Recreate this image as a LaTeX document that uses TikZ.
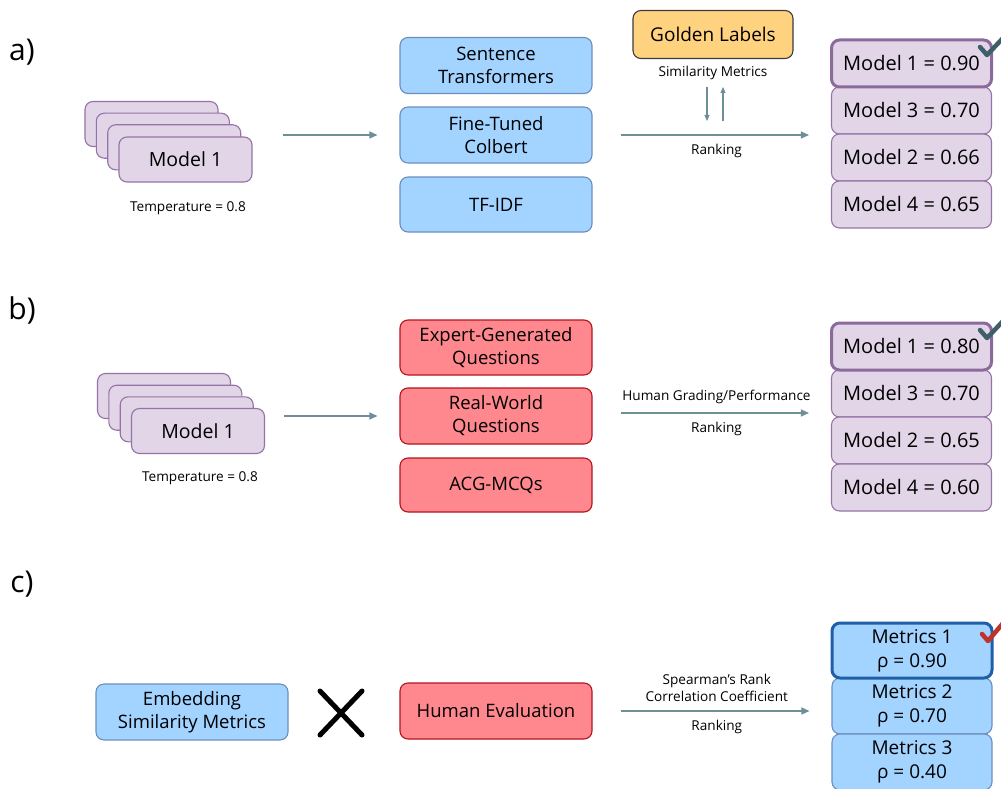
\documentclass[tikz,border=0pt]{standalone}
\usepackage{fontspec}
\setmainfont{Open Sans}
\usetikzlibrary{arrows.meta}
\definecolor{pfill}{HTML}{E1D5E7}
\definecolor{pdraw}{HTML}{9673A6}
\definecolor{phl}{HTML}{8B6A9C}
\definecolor{bfill}{HTML}{A3D3FF}
\definecolor{bdraw}{HTML}{6C8EBF}
\definecolor{bhl}{HTML}{1F5FA8}
\definecolor{rfill}{HTML}{FF888E}
\definecolor{rdraw}{HTML}{B5151E}
\definecolor{gfill}{HTML}{FFD27F}
\definecolor{gdraw}{HTML}{3C3C3C}
\definecolor{arrc}{HTML}{6E8E98}
\definecolor{chk}{HTML}{3F5E69}
\definecolor{chkred}{HTML}{C0332B}
\tikzset{
  box/.style={rounded corners=8pt, line width=1.1pt, inner sep=0pt, align=center,
    font=\fontsize{19}{23}\selectfont},
  pbox/.style={box, fill=pfill, draw=pdraw},
  bbox/.style={box, fill=bfill, draw=bdraw, font=\fontsize{18.5}{23}\selectfont},
  rbox/.style={box, fill=rfill, draw=rdraw, font=\fontsize{18.5}{23}\selectfont},
  gbox/.style={box, fill=gfill, draw=gdraw, font=\fontsize{19}{23}\selectfont},
  midbox/.style={minimum width=192pt},
  stackbox/.style={pbox, minimum width=133pt, minimum height=45pt, font=\fontsize{19.5}{23}\selectfont},
  rankbox/.style={pbox, minimum width=160pt, minimum height=47pt, font=\fontsize{20}{23}\selectfont},
  metbox/.style={box, fill=bfill, draw=bdraw, minimum width=160pt, font=\fontsize{19}{24}\selectfont},
  sm/.style={font=\fontsize{13.6}{16.5}\selectfont, inner sep=0pt, align=center},
  lbl/.style={font=\fontsize{30}{34}\selectfont, inner sep=0pt},
  arr/.style={draw=arrc, line width=1.2pt, -{Triangle[length=8pt,width=7pt]}},
  sarr/.style={draw=arrc, line width=1.1pt, -{Triangle[length=6pt,width=5pt]}},
  chkline/.style={line width=4.5pt, line cap=round, line join=round},
}
\begin{document}
\begin{tikzpicture}[x=1pt,y=-1pt]
\useasboundingbox (0,0) rectangle (1001,789);
\fill[white] (0,0) rectangle (1001,789);

% ---------------- a) ----------------
\node[lbl] (la) at (22,52) {a)};
\node[stackbox] (sa1) at (151.5,124) {};
\node[stackbox] (sa2) at (162.8,135.7) {};
\node[stackbox] (sa3) at (174.2,147.3) {};
\node[stackbox] (sa4) at (185.5,159.5) {Model 1};
\node[sm] (ta) at (188,208) {Temperature = 0.8};

\node[bbox, midbox, minimum height=56pt] (st) at (496,65.5) {Sentence\\Transformers};
\node[bbox, midbox, minimum height=56pt] (ft) at (496,135) {Fine-Tuned\\Colbert};
\node[bbox, midbox, minimum height=55pt] (tf) at (496,204.5) {TF-IDF};

\node[gbox, minimum width=160pt, minimum height=48pt] (gl) at (713,34.5) {Golden Labels};
\node[sm] (sim) at (713,73) {Similarity Metrics};
\coordinate (d1) at (707,87);
\coordinate (d2) at (707,121);
\coordinate (u1) at (723,121);
\coordinate (u2) at (723,87);

\node[rankbox] (ra2) at (911.5,110.5) {Model 3 = 0.70};
\node[rankbox] (ra3) at (911.5,157.5) {Model 2 = 0.66};
\node[rankbox] (ra4) at (911.5,204.5) {Model 4 = 0.65};
\node[rankbox, draw=phl, line width=3pt] (ra1) at (911.5,63.5) {Model 1 = 0.90};

\draw[arr, shorten <=30pt, shorten >=22pt] (sa4.east |- ft.west) -- (ft.west);
\draw[arr, shorten <=28pt, shorten >=22pt] (ft.east) -- (ft.east -| ra2.west)
  node[sm, pos=0.52, below=9pt] (rka) {Ranking};
\draw[sarr] (d1) -- (d2);
\draw[sarr] (u1) -- (u2);
\draw[chk, chkline] (980,47) -- (987,55) -- (1004,37);

% ---------------- b) ----------------
\node[lbl] (lb) at (22,310) {b)};
\node[stackbox] (sb1) at (164,396) {};
\node[stackbox] (sb2) at (175.3,407.7) {};
\node[stackbox] (sb3) at (186.7,419.3) {};
\node[stackbox] (sb4) at (198,431) {Model 1};
\node[sm] (tb) at (200,478) {Temperature = 0.8};

\node[rbox, midbox, minimum height=55pt] (eg) at (496,347.5) {Expert-Generated\\Questions};
\node[rbox, midbox, minimum height=56pt] (rw) at (496,416) {Real-World\\Questions};
\node[rbox, midbox, minimum height=54pt] (ac) at (496,485) {ACG-MCQs};

\node[rankbox] (rb2) at (911.5,393.5) {Model 3 = 0.70};
\node[rankbox] (rb3) at (911.5,440.5) {Model 2 = 0.65};
\node[rankbox] (rb4) at (911.5,487.5) {Model 4 = 0.60};
\node[rankbox, draw=phl, line width=3pt] (rb1) at (911.5,346.5) {Model 1 = 0.80};

\draw[arr, shorten <=19pt, shorten >=22pt] (sb4.east |- rw.west) -- (rw.west);
\draw[arr, shorten <=28pt, shorten >=22pt] ([yshift=3pt]rw.east) -- ([yshift=3pt]rw.east -| rb2.west)
  node[sm, pos=0.52, above=9pt] (hg) {Human Grading/Performance}
  node[sm, pos=0.52, below=9pt] (rkb) {Ranking};
\draw[chk, chkline] (980,330) -- (987,338) -- (1004,320);

% ---------------- c) ----------------
\node[lbl] (lc) at (22,584) {c)};
\node[bbox, midbox, minimum height=56pt] (em) at (192,712) {Embedding\\Similarity Metrics};
\draw[line width=5pt, line cap=round] (320,691) -- (362,735);
\draw[line width=5pt, line cap=round] (320,735) -- (362,691);
\node[rbox, midbox, minimum height=56pt] (he) at (496,711) {Human Evaluation};

\node[metbox, minimum height=56pt] (m2) at (912,706) {Metrics 2\\ρ = 0.70};
\node[metbox, minimum height=56pt] (m3) at (912,762) {Metrics 3\\ρ = 0.40};
\node[metbox, draw=bhl, line width=3pt, minimum height=55pt] (m1) at (912,650.5) {Metrics 1\\ρ = 0.90};

\draw[arr, shorten <=28pt, shorten >=22pt] (he.east) -- (he.east -| m2.west)
  node[sm, pos=0.52, above=9pt] (sp) {Spearman’s Rank\\Correlation Coefficient}
  node[sm, pos=0.52, below=9pt] (rkc) {Ranking};
\draw[chkred, chkline] (982,634) -- (988,641) -- (1004,622);
\end{tikzpicture}
\end{document}
